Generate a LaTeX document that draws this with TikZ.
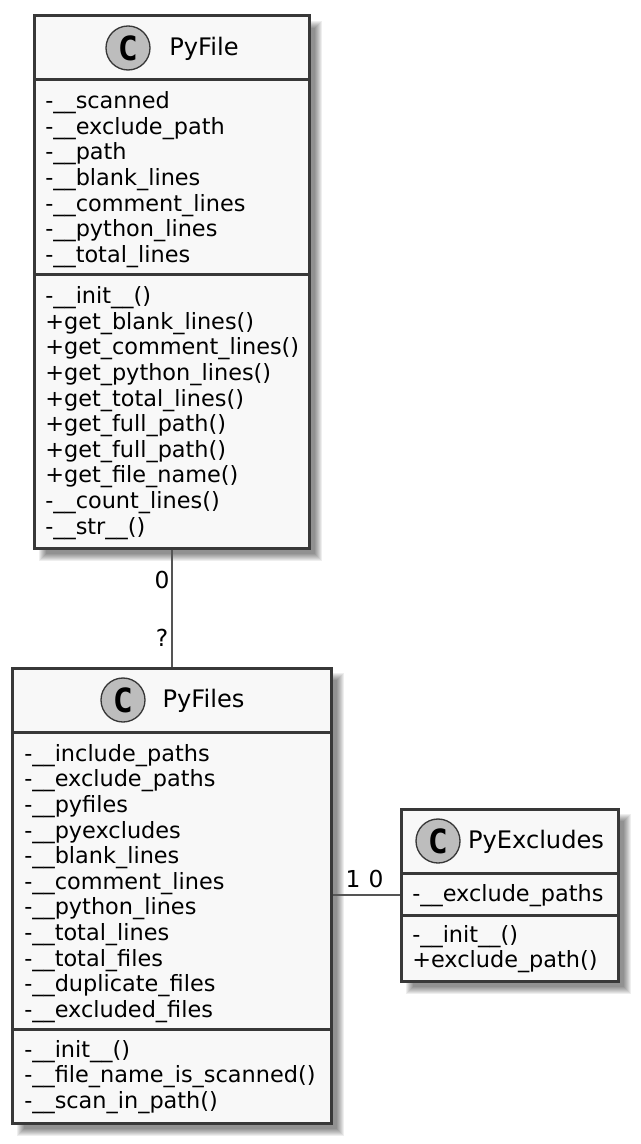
\documentclass[tikz,border=0pt]{standalone}
\usepackage{fontspec}
\setmainfont{DejaVu Sans}
\newfontfamily\cmono{DejaVu Sans Mono}
\tikzset{
  x=0.75pt,y=-0.75pt,
  umlbox/.style={fill=boxline,inner sep=0pt,outer sep=0pt,rectangle},
  members/.style={anchor=north west,inner sep=0pt,align=left,text=black,font=\fontsize{16.8}{19.2}\selectfont},
  titletext/.style={anchor=center,inner sep=0pt,text=black,font=\fontsize{18.1}{21}\selectfont},
  spot/.style={circle,draw=boxline,line width=1pt,fill=spotfill,minimum size=33pt,inner sep=0pt,text=black,font=\cmono\bfseries\fontsize{25}{25}\selectfont},
  link/.style={draw=linkgray,line width=1.5pt},
  multi/.style={inner sep=0pt,text=black,font=\fontsize{17.5}{19.2}\selectfont},
}
\definecolor{boxline}{HTML}{383838}
\definecolor{boxfill}{HTML}{F8F8F8}
\definecolor{spotfill}{HTML}{BDBDBD}
\definecolor{linkgray}{HTML}{555555}
\newcommand{\softshadow}[4]{%
  \foreach \d in {-3,-2,...,4}{
    \fill[black,opacity=.065] ({#1+9-\d},{#2+9-\d}) rectangle ({#3+9+\d},{#4+9+\d});
  }}
\newcommand{\boxface}[1]{\fill[boxfill] ([shift={(3,3)}]#1.north west) rectangle ([shift={(-3,-3)}]#1.south east);}
\newcommand{\boxrule}[2]{\fill[boxline] (#1.west |- 0,#2-1.5) rectangle (#1.east |- 0,#2+1.5);}
\begin{document}
\begin{tikzpicture}
\useasboundingbox (0,0) rectangle (640,1144);
\fill[white] (0,0) rectangle (640,1144);
\softshadow{34}{16}{309}{548}
\softshadow{12}{668}{331}{1123}
\softshadow{401}{809}{618}{981}
% PyFile
\node[umlbox,minimum width=278*.75pt,minimum height=535*.75pt] (pyfile) at (171.5,282) {};
\boxface{pyfile}
\boxrule{pyfile}{80}
\boxrule{pyfile}{275}
\node[spot] (spotA) at (128,48) {C};
\node[titletext] (titleA) at (204,49) {PyFile};
\node[members] (fieldsA) at (45,91.5) {-\_\_scanned\\-\_\_exclude\_path\\-\_\_path\\-\_\_blank\_lines\\-\_\_comment\_lines\\-\_\_python\_lines\\-\_\_total\_lines};
\node[members] (methodsA) at (45,286.5) {-\_\_init\_\_()\\+get\_blank\_lines()\\+get\_comment\_lines()\\+get\_python\_lines()\\+get\_total\_lines()\\+get\_full\_path()\\+get\_full\_path()\\+get\_file\_name()\\-\_\_count\_lines()\\-\_\_str\_\_()};
% PyFiles
\node[umlbox,minimum width=322*.75pt,minimum height=458*.75pt] (pyfiles) at (171.5,895.5) {};
\boxface{pyfiles}
\boxrule{pyfiles}{732}
\boxrule{pyfiles}{1029}
\node[spot] (spotB) at (123,700) {C};
\node[titletext] (titleB) at (203.5,701) {PyFiles};
\node[members] (fieldsB) at (24,744) {-\_\_include\_paths\\-\_\_exclude\_paths\\-\_\_pyfiles\\-\_\_pyexcludes\\-\_\_blank\_lines\\-\_\_comment\_lines\\-\_\_python\_lines\\-\_\_total\_lines\\-\_\_total\_files\\-\_\_duplicate\_files\\-\_\_excluded\_files};
\node[members] (methodsB) at (24,1040) {-\_\_init\_\_()\\-\_\_file\_name\_is\_scanned()\\-\_\_scan\_in\_path()};
% PyExcludes
\node[umlbox,minimum width=220*.75pt,minimum height=175*.75pt] (pyexcl) at (509.5,895) {};
\boxface{pyexcl}
\boxrule{pyexcl}{873}
\boxrule{pyexcl}{915}
\node[spot] (spotC) at (438,841) {C};
\node[titletext] (titleC) at (536,842) {PyExcludes};
\node[members] (fieldsC) at (412,884.5) {-\_\_exclude\_paths};
\node[members] (methodsC) at (412,925) {-\_\_init\_\_()\\+exclude\_path()};
% connectors
\draw[link] (pyfile.south) -- (pyfiles.north);
\draw[link] (pyexcl.west) -- (pyfiles.east |- pyexcl.west);
\node[multi] (m0a) at (162,580) {0};
\node[multi] (m0b) at (162,638) {?};
\node[multi] (m1a) at (353,879) {1};
\node[multi] (m1b) at (376,879) {0};
\end{tikzpicture}
\end{document}
